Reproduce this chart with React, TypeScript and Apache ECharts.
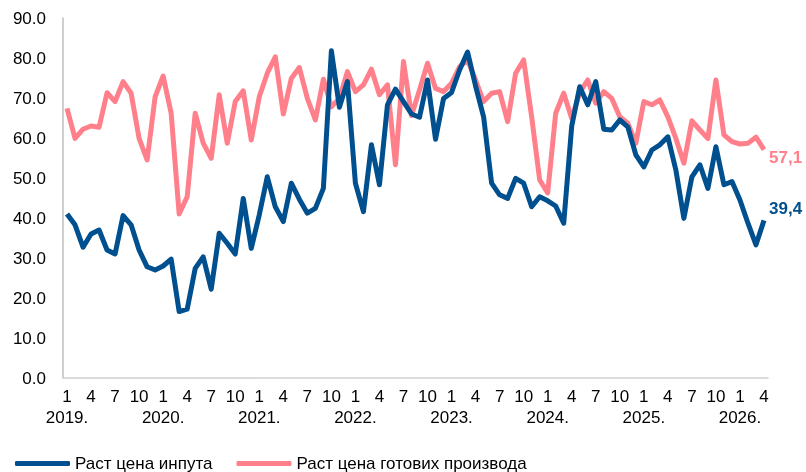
import React, { useEffect, useRef } from "react";
import * as echarts from "echarts";

const years = [2019, 2020, 2021, 2022, 2023, 2024, 2025, 2026];
const monthsPerYear = [12, 12, 12, 12, 12, 12, 12, 4];

const inputPrices = [
  41.0, 38.3, 32.7, 36.0, 37.0, 32.0, 31.0, 40.6, 38.3, 32.0, 27.8, 27.0,
  28.0, 29.7, 16.6, 17.2, 27.4, 30.3, 22.2, 36.2, 33.7, 31.0, 44.9, 32.4,
  40.8, 50.3, 42.8, 39.1, 48.7, 44.7, 41.2, 42.4, 47.4, 81.8, 67.7, 74.1,
  48.7, 41.6, 58.3, 48.3, 68.3, 72.2, 69.1, 66.0, 65.2, 74.5, 59.7, 69.9,
  71.4, 77.0, 81.5, 73.0, 65.3, 48.7, 45.8, 44.9, 49.9, 48.7, 42.8, 45.3,
  44.3, 43.0, 38.7, 63.0, 72.8, 68.3, 74.1, 62.2, 62.0, 64.5, 62.8, 55.8,
  52.8, 57.0, 58.3, 60.3, 52.0, 39.9, 50.3, 53.3, 47.4, 57.8, 48.3, 49.1,
  44.5, 38.7, 33.3, 39.4,
];

const finishedPrices = [
  67.4, 59.9, 62.2, 63.0, 62.7, 71.3, 69.1, 74.1, 71.2, 59.9, 54.5, 70.3,
  75.5, 66.2, 41.0, 45.3, 66.2, 58.7, 54.9, 70.8, 58.7, 69.1, 71.8, 59.5,
  70.3, 76.2, 80.3, 66.0, 74.9, 77.6, 69.9, 64.5, 74.7, 67.8, 69.9, 76.6,
  71.6, 73.3, 77.2, 70.8, 73.3, 53.3, 79.1, 65.6, 72.0, 78.7, 72.4, 71.6,
  73.7, 77.8, 79.5, 74.5, 69.1, 71.2, 71.6, 64.1, 76.2, 79.5, 65.3, 49.5,
  46.3, 66.2, 71.2, 64.9, 71.4, 74.5, 68.7, 71.6, 69.9, 65.3, 63.7, 58.7,
  69.1, 68.3, 69.5, 65.3, 59.9, 53.7, 64.3, 62.0, 59.9, 74.5, 60.8, 59.1,
  58.5, 58.7, 60.2, 57.1,
];

const seriesNames = ["Раст цена инпута", "Раст цена готових производа"];
const colors = ["#00508f", "#ff808b"];

const categories: string[] = [];
years.forEach((y, yi) => {
  for (let m = 1; m <= monthsPerYear[yi]; m++) categories.push(`${y}-${m}`);
});

const FONT = "Liberation Sans, Arial, sans-serif";

export default function App() {
  const ref = useRef<HTMLDivElement>(null);
  useEffect(() => {
    if (!ref.current) return;
    const chart = echarts.init(ref.current, undefined, { renderer: "svg" });
    const endLabel = (color: string, offset: number[]) => ({
      show: true,
      distance: 5,
      offset,
      color,
      fontFamily: FONT,
      fontSize: 17,
      fontWeight: "bold",
      formatter: (p: any) => String(p.value).replace(".", ","),
    });
    const baseLabel = {
      showMinLabel: true,
      showMaxLabel: true,
      hideOverlap: false,
      color: "#000",
      fontFamily: FONT,
      fontSize: 17,
    };
    chart.setOption({
      animation: false,
      grid: { left: 63, right: 38, top: 18, bottom: 94, containLabel: false },
      legend: {
        left: 10,
        top: 450,
        itemWidth: 55,
        itemHeight: 5,
        itemGap: 24,
        icon: "roundRect",
        textStyle: { fontFamily: FONT, fontSize: 17, color: "#000" },
        data: seriesNames,
      },
      xAxis: [
        {
          type: "category",
          data: categories,
          boundaryGap: true,
          axisLine: { lineStyle: { color: "#d0d0d0", width: 1.5 } },
          axisTick: { show: false },
          axisLabel: {
            ...baseLabel,
            interval: (index: number) => index % 3 === 0,
            margin: 10,
            formatter: (val: string) => val.split("-")[1],
          },
        },
        {
          type: "category",
          data: categories,
          position: "bottom",
          offset: 21,
          boundaryGap: true,
          axisLine: { show: false },
          axisTick: { show: false },
          axisLabel: {
            ...baseLabel,
            interval: (index: number) => categories[index].endsWith("-1"),
            margin: 10,
            formatter: (val: string) => `${val.split("-")[0]}.`,
          },
        },
      ],
      yAxis: {
        type: "value",
        min: 0,
        max: 90,
        interval: 10,
        axisLine: { show: true, lineStyle: { color: "#bfbfbf", width: 1.5 } },
        axisTick: { show: false },
        splitLine: { show: false },
        axisLabel: {
          margin: 17,
          color: "#000",
          fontFamily: FONT,
          fontSize: 17,
          formatter: (v: number) => v.toFixed(1),
        },
      },
      series: [
        {
          name: seriesNames[0],
          type: "line",
          xAxisIndex: 0,
          data: inputPrices,
          color: colors[0],
          showSymbol: false,
          symbol: "none",
          lineStyle: { width: 5, color: colors[0], join: "round" },
          endLabel: endLabel(colors[0], [0, -12]),
          z: 3,
        },
        {
          name: seriesNames[1],
          type: "line",
          xAxisIndex: 0,
          data: finishedPrices,
          color: colors[1],
          showSymbol: false,
          symbol: "none",
          lineStyle: { width: 5, color: colors[1], join: "round" },
          endLabel: endLabel(colors[1], [0, 8]),
          z: 2,
        },
      ],
    });
    return () => chart.dispose();
  }, []);
  return (
    <div
      ref={ref}
      style={{ position: "fixed", left: 0, top: 0, width: 806, height: 472 }}
    />
  );
}
